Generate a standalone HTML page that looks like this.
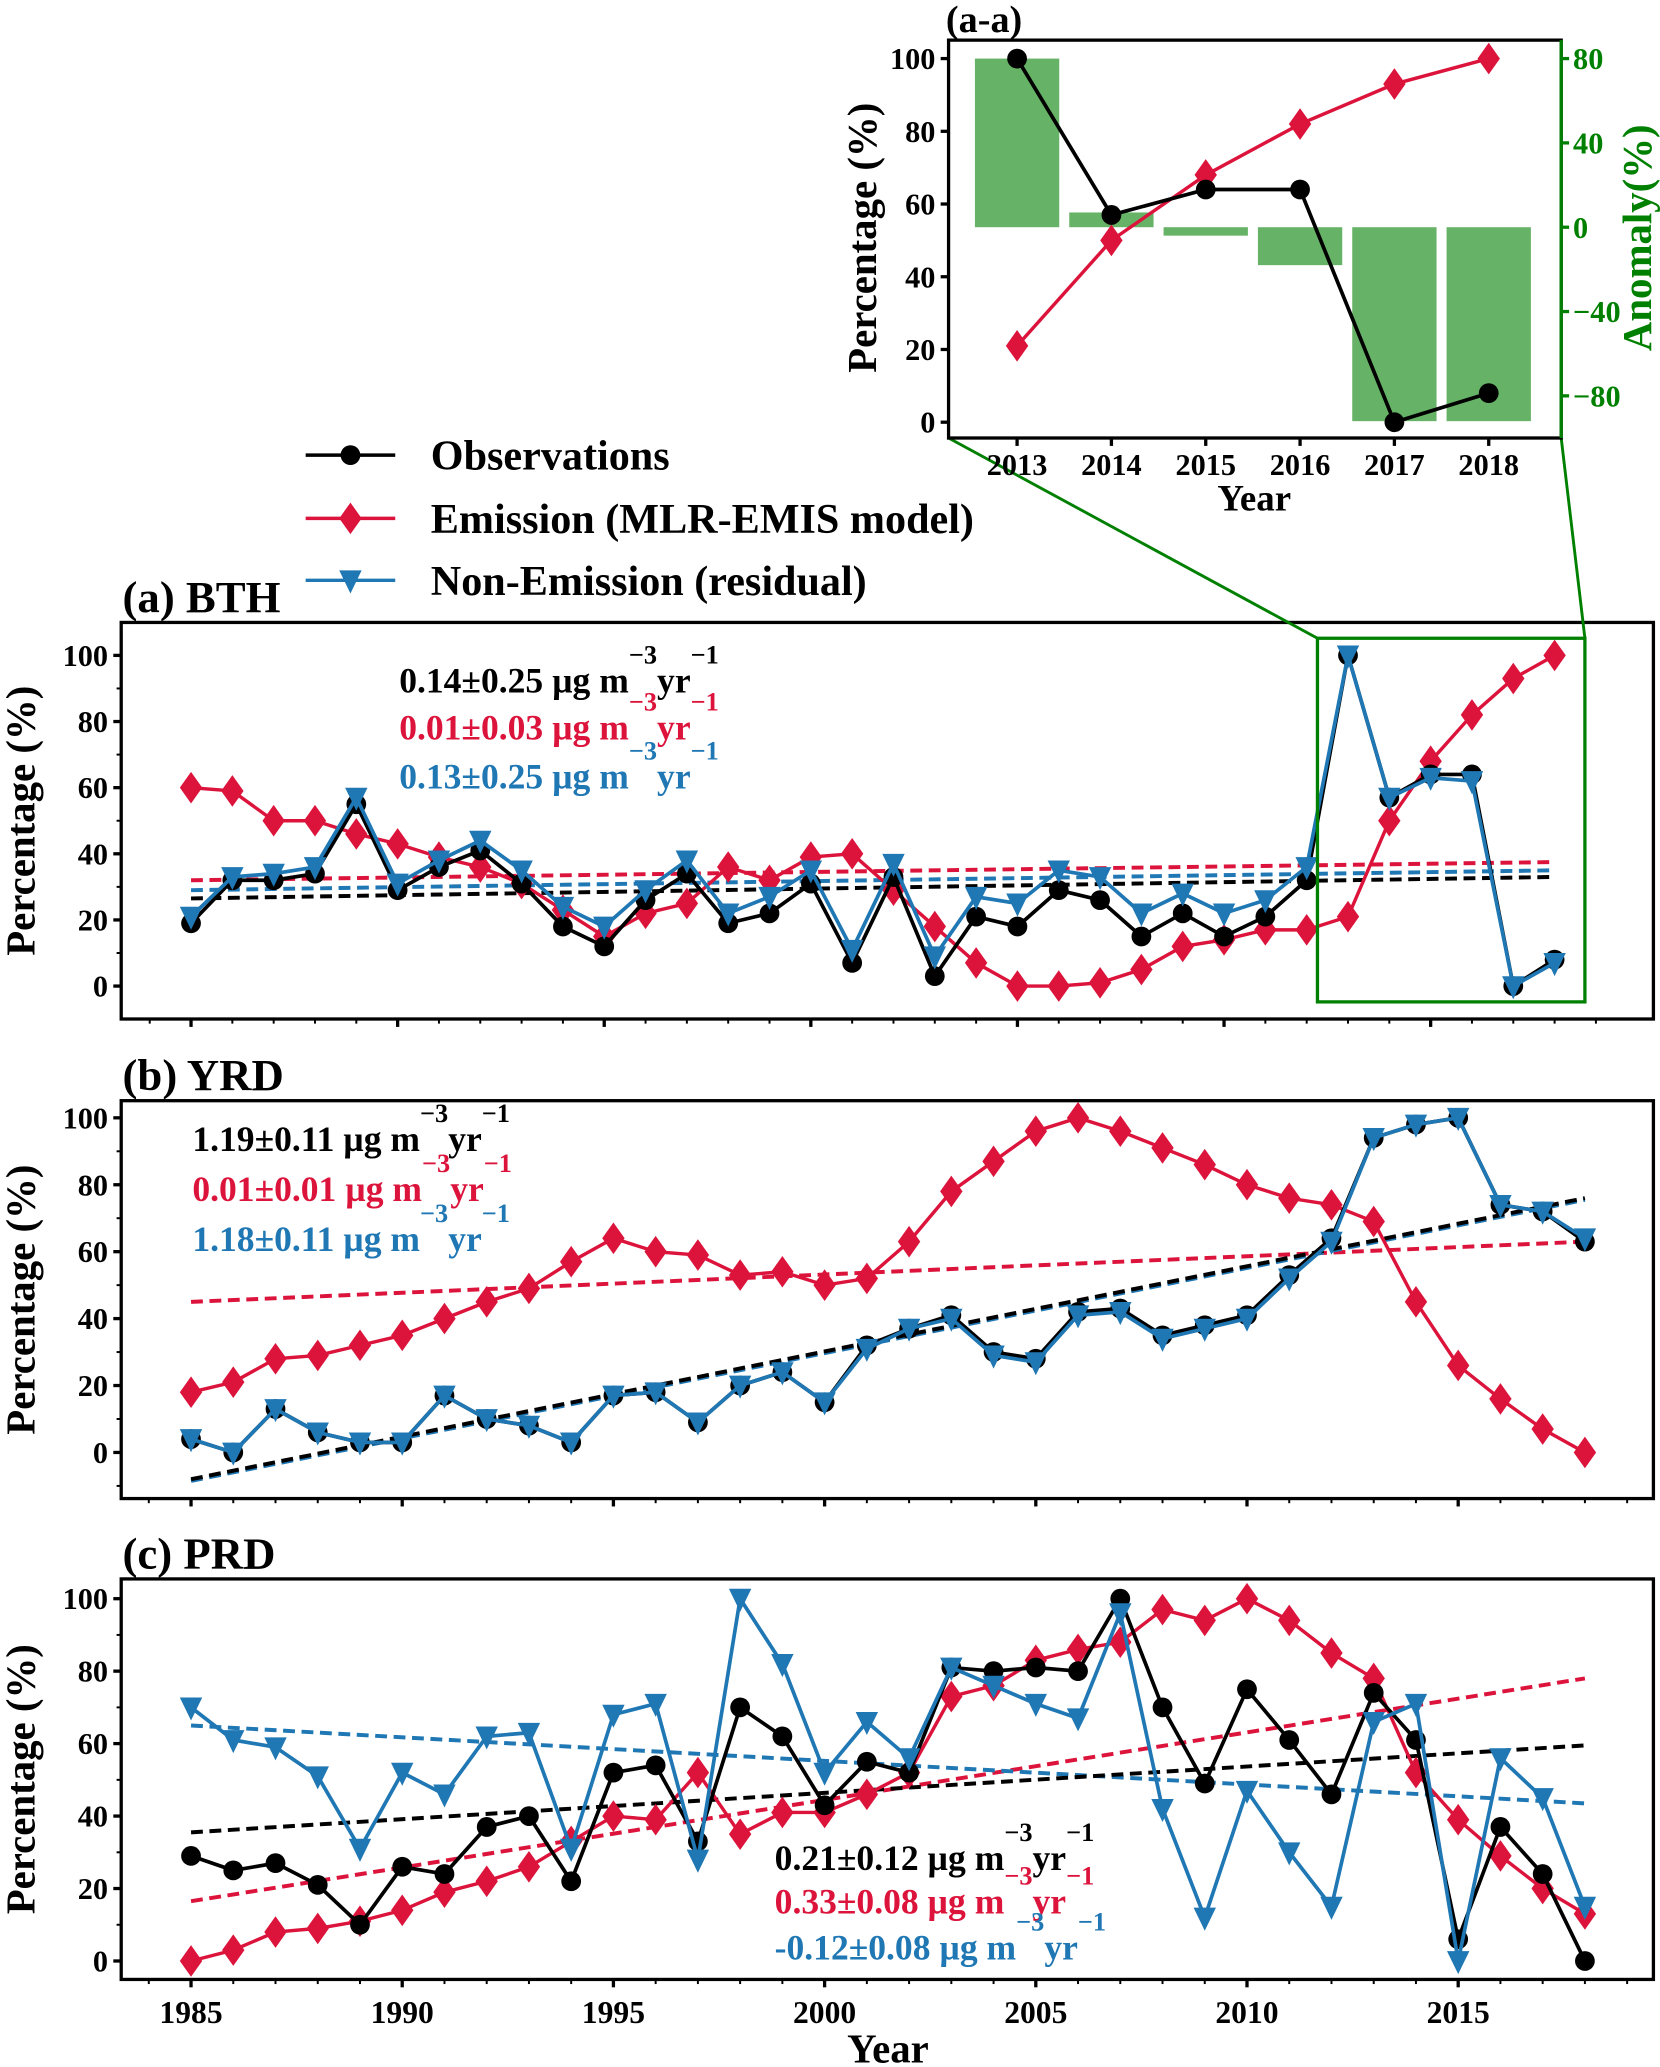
<!DOCTYPE html>
<html><head><meta charset="utf-8"><style>
html,body{margin:0;padding:0;background:#fff;}
svg{display:block;font-family:"Liberation Serif",serif;font-weight:bold;}
</style></head><body>
<svg id="fig" width="1660" height="2067" viewBox="0 0 1260 1568" xmlns="http://www.w3.org/2000/svg"></svg>
<script>
const years = [];
for (let y = 1985; y <= 2018; y++) years.push(y);
// Panel (a) BTH
const bthObs = [19,32,32,34,55,29,36,41,31,18,12,26,34,19,22,31,7,33,3,21,18,29,26,15,22,15,21,32,100,57,64,64,0,8];
const bthEmis = [60,59,50,50,46,43,39,36,31,23,15,22,25,36,32,39,40,29,18,7,0,0,1,5,12,14,17,17,21,50,68,82,93,100];
const bthRes = [21,33,34,36,57,31,38,44,35,24,18,29,38,22,27,35,11,37,9,27,25,35,33,22,28,22,26,36,100,57,63,62,0,7];
const bthTrend = [[26.5,33],[32,37.5],[29,35]];
// Panel (b) YRD
const yrdObs = [4,0,13,6,3,3,17,10,8,3,17,18,9,20,24,15,32,37,41,30,28,42,43,35,38,41,53,64,94,98,100,74,72,63];
const yrdEmis = [18,21,28,29,32,35,40,45,49,57,64,60,59,53,54,50,52,63,78,87,96,100,96,91,86,80,76,74,69,45,26,16,7,0];
const yrdRes = [4,0,13,6,3,3,17,10,8,3,17,18,9,20,24,15,31,37,40,29,27,41,42,34,37,40,52,63,94,98,100,74,72,64];
const yrdTrend = [[-8,76],[45,63],[-8.5,75.5]];
// Panel (c) PRD
const prdObs = [29,25,27,21,10,26,24,37,40,22,52,54,33,70,62,43,55,52,81,80,81,80,100,70,49,75,61,46,74,61,6,37,24,0];
const prdEmis = [0,3,8,9,11,14,19,22,26,33,40,39,52,35,41,41,46,52,73,76,83,86,88,97,94,100,94,85,78,52,39,29,20,13];
const prdRes = [70,61,59,51,31,52,46,62,63,31,68,71,28,100,82,52,66,56,81,76,71,67,96,42,12,47,30,15,66,71,0,56,45,15];
const prdTrend = [[35.5,59.5],[16.5,78],[65,43.5]];
// Inset
const insetYears = [2013,2014,2015,2016,2017,2018];
const insetObs = [100,57,64,64,0,8];
const insetEmis = [21,50,68,82,93,100];
const insetAnom = [80,7,-4,-18,-92,-92];
const yTicks = [0,20,40,60,80,100];
const xTicks = [1985,1990,1995,2000,2005,2010,2015];
const anomTicks = [80,40,0,-40,-80];

const NS = "http://www.w3.org/2000/svg";
const svg = document.getElementById('fig');
const BLK="#000", RED="#dc143c", BLU="#1f77b4", GRN="#008000";
function el(tag, attrs, parent){const e=document.createElementNS(NS,tag);for(const k in attrs)e.setAttribute(k,attrs[k]);(parent||svg).appendChild(e);return e;}
function txt(s, attrs, parent){const e=el('text',attrs,parent);e.textContent=s;return e;}

function marker(g,kind,x,y,color){
  let m;
  if(kind==='o') m=el('circle',{cx:x,cy:y,r:7.5,fill:color},g);
  else if(kind==='d') m=el('polygon',{points:`${x},${y-12} ${x+8.5},${y} ${x},${y+12} ${x-8.5},${y}`,fill:color},g);
  else m=el('polygon',{points:`${x-8.5},${y-7.5} ${x+8.5},${y-7.5} ${x},${y+10}`,fill:color},g);
  return m;
}
function series(g,xs,vals,X,Y,color,kind,w,name){
  const s=el('g',{},g);
  
  
  el('polyline',{points:vals.map((v,i)=>X(xs[i])+','+Y(v)).join(' '),fill:'none',stroke:color,'stroke-width':w},s);
  vals.forEach((v,i)=>{const m=marker(s,kind,X(xs[i]),Y(v),color);
    
    });
}

function panel(cfg){
  const g=el('g',{});
  
  
  const {bx0,bx1,by0,by1,y0,y100,xa,xb}=cfg;
  const X=yr=>xa+(yr-1985)*(xb-xa)/33;
  const Y=v=>y0+(y100-y0)*v/100;
  for(let v=-10; v<=100; v+=10){
    const yy=Y(v); if(yy>by1||yy<by0) continue;
    const major=v%20===0 && v>=0;
    el('line',{x1:bx0-(major?6:3.5),x2:bx0,y1:yy,y2:yy,stroke:BLK,'stroke-width':major?2.5:1.5},g);
  }
  yTicks.forEach(v=>{const t=txt(String(v),{x:bx0-10,y:Y(v)+8,'text-anchor':'end','font-size':23},g);
    });
  for(let yr=1984; yr<=2019; yr++){
    const xx=X(yr); if(xx<bx0||xx>bx1) continue;
    const major=yr%5===0;
    el('line',{x1:xx,x2:xx,y1:by1,y2:by1+(major?6:3.5),stroke:BLK,'stroke-width':major?2.5:1.5},g);
  }
  if(cfg.xlabels){
    xTicks.forEach(yr=>{const t=txt(String(yr),{x:X(yr),y:by1+33,'text-anchor':'middle','font-size':24},g);
      });
  }
  const yt=txt('Percentage (%)',{x:0,y:0,'text-anchor':'middle','font-size':31,transform:`translate(${cfg.ytx},${(by0+by1)/2}) rotate(-90)`},g);
  
  const pt=txt(cfg.title,{x:93,y:by0-8,'font-size':34},g);
  
  const cols=[BLK,RED,BLU];
  [1,2,0].forEach(k=>{const t=cfg.trend[k];
    const l=el('line',{x1:X(1985),x2:X(2018),y1:Y(t[0]),y2:Y(t[1]),stroke:cols[k],'stroke-width':3,'stroke-dasharray':'9,5'},g);
    });
  series(g,years,cfg.emis,X,Y,RED,'d',2.6,'emission-series');
  series(g,years,cfg.obs,X,Y,BLK,'o',2.8,'observation-series');
  series(g,years,cfg.res,X,Y,BLU,'v',2.8,'residual-series');
  el('rect',{x:bx0,y:by0,width:bx1-bx0,height:by1-by0,fill:'none',stroke:BLK,'stroke-width':2.5},g);
  cfg.texts.forEach((s,k)=>{
    const [tx,ty]=cfg.tpos[k];
    const t=el('text',{x:tx,y:ty,'font-size':27,fill:cols[k]},g);
    
    t.textContent=s+' \u00b5g m';
    const s1=el('tspan',{dy:-22,'font-size':20},t); s1.textContent='\u22123';
    const s2=el('tspan',{dy:22},t); s2.textContent='yr';
    const s3=el('tspan',{dy:-22,'font-size':20},t); s3.textContent='\u22121';
  });
  return {g,X,Y};
}

panel({name:'panel-a-bth',title:'(a) BTH',bx0:92,bx1:1255,by0:472,by1:773,y0:748,y100:497,xa:145,xb:1180,ytx:26,
  obs:bthObs,emis:bthEmis,res:bthRes,trend:bthTrend,
  texts:['0.14\u00b10.25','0.01\u00b10.03','0.13\u00b10.25'],tpos:[[303,525],[303,561],[303,598]]});
panel({name:'panel-b-yrd',title:'(b) YRD',bx0:92,bx1:1255,by0:835,by1:1137,y0:1102,y100:848,xa:145,xb:1203,ytx:26,
  obs:yrdObs,emis:yrdEmis,res:yrdRes,trend:yrdTrend,
  texts:['1.19\u00b10.11','0.01\u00b10.01','1.18\u00b10.11'],tpos:[[146,873],[146,911],[146,949]]});
panel({name:'panel-c-prd',title:'(c) PRD',bx0:92,bx1:1255,by0:1198,by1:1502,y0:1488,y100:1213,xa:145,xb:1203,ytx:26,
  obs:prdObs,emis:prdEmis,res:prdRes,trend:prdTrend,xlabels:true,
  texts:['0.21\u00b10.12','0.33\u00b10.08','-0.12\u00b10.08'],tpos:[[588,1419],[588,1452],[588,1487]]});
const xt=txt('Year',{x:674,y:1565,'text-anchor':'middle','font-size':31});


const zb=el('g',{});


el('rect',{x:1000,y:484,width:203,height:276,fill:'none',stroke:GRN,'stroke-width':2.5},zb);
el('line',{x1:1000,y1:484,x2:720,y2:332,stroke:GRN,'stroke-width':2.2},zb);
el('line',{x1:1203,y1:484,x2:1185,y2:332,stroke:GRN,'stroke-width':2.2},zb);

(function(){
  const g=el('g',{});
  
  
  const bx0=720,bx1=1185,by0=30,by1=332;
  const X=yr=>772+(yr-2013)*71.6;
  const Y=v=>320+(44-320)*v/100;
  const A=v=>172-128*v/80;
  el('rect',{x:bx0,y:by0,width:bx1-bx0,height:by1-by0,fill:'#fff'},g);
  insetAnom.forEach((v,i)=>{const b=el('rect',{x:X(insetYears[i])-32,y:Math.min(A(v),A(0)),width:64,height:Math.abs(A(v)-A(0)),fill:'#66b266'},g);
    });
  series(g,insetYears,insetEmis,X,Y,RED,'d',2.6,'inset-emission-series');
  series(g,insetYears,insetObs,X,Y,BLK,'o',2.8,'inset-observation-series');
  el('rect',{x:bx0,y:by0,width:bx1-bx0,height:by1-by0,fill:'none',stroke:BLK,'stroke-width':2.5},g);
  el('line',{x1:bx1,y1:by0,x2:bx1,y2:by1,stroke:GRN,'stroke-width':2.5},g);
  yTicks.forEach(v=>{el('line',{x1:bx0-6,x2:bx0,y1:Y(v),y2:Y(v),stroke:BLK,'stroke-width':2.5},g);
    const t=txt(String(v),{x:bx0-10,y:Y(v)+8,'text-anchor':'end','font-size':23},g);
    });
  anomTicks.forEach(v=>{el('line',{x1:bx1,x2:bx1+6,y1:A(v),y2:A(v),stroke:GRN,'stroke-width':2.5},g);
    const t=txt(String(v).replace('-','\u2212'),{x:bx1+9,y:A(v)+8,'font-size':23,fill:GRN},g);
    });
  insetYears.forEach(yr=>{el('line',{x1:X(yr),x2:X(yr),y1:by1,y2:by1+6,stroke:BLK,'stroke-width':2.5},g);
    const t=txt(String(yr),{x:X(yr),y:by1+28,'text-anchor':'middle','font-size':23},g);
    });
  const t1=txt('Year',{x:952,y:387,'text-anchor':'middle','font-size':28},g);
  
  const t2=txt('Percentage (%)',{x:0,y:0,'text-anchor':'middle','font-size':31,transform:'translate(665,180) rotate(-90)'},g);
  
  const t3=txt('Anomaly(%)',{x:0,y:0,'text-anchor':'middle','font-size':31,fill:GRN,transform:'translate(1253,180) rotate(-90)'},g);
  
  const t4=txt('(a-a)',{x:718,y:24,'font-size':29},g);
  
})();

(function(){
  const g=el('g',{});
  
  
  const items=[['Observations',BLK,'o',345],['Emission (MLR-EMIS model)',RED,'d',393],['Non-Emission (residual)',BLU,'v',440]];
  items.forEach(([s,c,k,y])=>{
    const e=el('g',{},g);
    
    
    el('line',{x1:232,x2:300,y1:y,y2:y,stroke:c,'stroke-width':2.6},e);
    marker(e,k,266,y,c);
    txt(s,{x:327,y:y+11,'font-size':32},e);
  });
})();
</script>
</body></html>
